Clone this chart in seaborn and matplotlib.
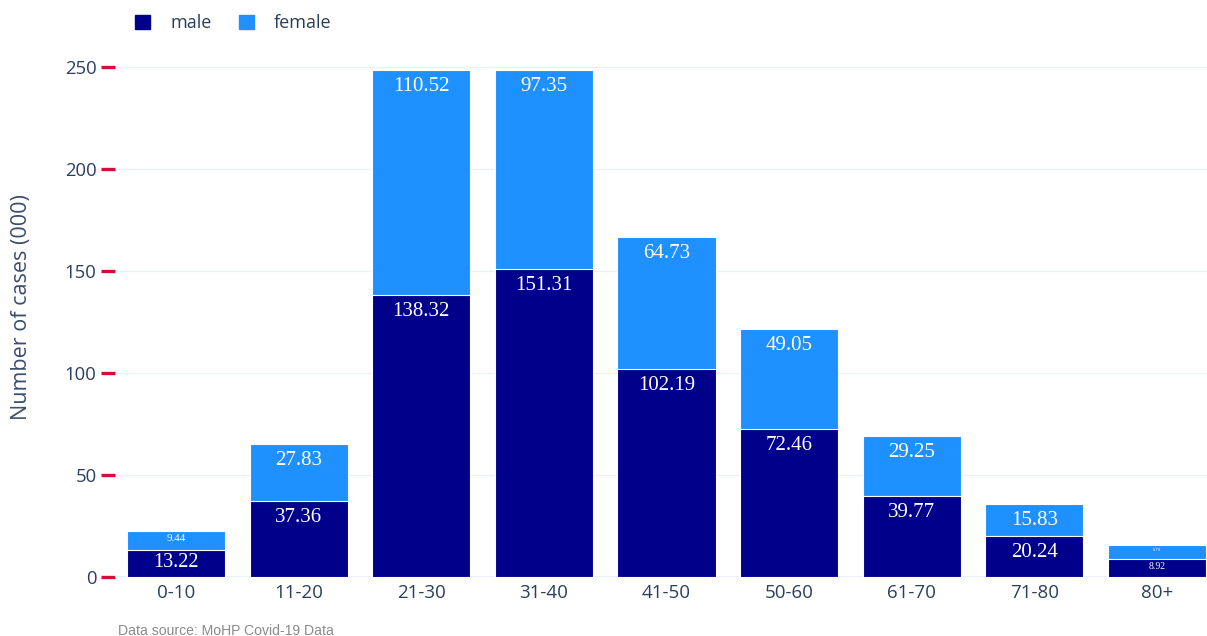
import matplotlib
matplotlib.use("Agg")
import matplotlib.pyplot as plt
from matplotlib.patches import Patch
import seaborn as sns
import pandas as pd

age_groups = ["0-10", "11-20", "21-30", "31-40", "41-50", "50-60", "61-70", "71-80", "80+"]
male = [13.22, 37.36, 138.32, 151.31, 102.19, 72.46, 39.77, 20.24, 8.92]
female = [9.44, 27.83, 110.52, 97.35, 64.73, 49.05, 29.25, 15.83, 6.79]
y_ticks = [0, 50, 100, 150, 200, 250]

MALE_C = "#00008B"
FEMALE_C = "#1E90FF"
TEXT_C = "#2A3F5F"
GRID_C = "#EBF0F8"
TICK_C = "#D0103A"

sns.set_theme(style="white")
plt.rcParams["font.family"] = ["Open Sans", "DejaVu Sans"]

df = pd.DataFrame({"age": age_groups, "male": male, "female": female})
df["total"] = df["male"] + df["female"]

W, H, DPI = 1207, 636, 100
fig = plt.figure(figsize=(W / DPI, H / DPI), dpi=DPI)

# plot area in pixels
x_left, x_right = 114.7, 1218.3
y_zero, px_per_unit = 577.3, 2.04
y_max = 262
ax = fig.add_axes([x_left / W, (H - y_zero) / H,
                   (x_right - x_left) / W, y_max * px_per_unit / H])

# stacked bars: total in female colour, male drawn over the lower part
sns.barplot(data=df, x="age", y="total", color=FEMALE_C, saturation=1,
            width=0.8, edgecolor="white", linewidth=0.8, ax=ax, zorder=2)
sns.barplot(data=df, x="age", y="male", color=MALE_C, saturation=1,
            width=0.8, edgecolor="white", linewidth=0.8, ax=ax, zorder=3)

ax.set_xlim(-0.5, len(age_groups) - 0.5)
ax.set_ylim(0, y_max)
ax.set_yticks(y_ticks)
ax.set_yticklabels([str(t) for t in y_ticks])
ax.set_xlabel("")
ax.set_ylabel("")

for s in ax.spines.values():
    s.set_visible(False)
ax.grid(False)
for t in y_ticks[1:]:
    ax.axhline(t, color=GRID_C, lw=1, zorder=0)
ax.axhline(0, color=GRID_C, lw=2.2, zorder=1)

ax.tick_params(axis="y", which="major", direction="out", length=10, width=2.4,
               color=TICK_C, pad=3, labelsize=13.3, labelcolor=TEXT_C, left=True)
ax.tick_params(axis="x", length=0, pad=5, labelsize=13.5, labelcolor=TEXT_C)


def label_size(h_px):
    # shrink text so it fits inside short segments
    return 15 * max(0.2, min(1.0, (h_px - 10) / 17.5))


def put_label(x, top, value):
    h_px = value * px_per_unit
    fs = label_size(h_px)
    off = -2.2 if fs < 15 else -5.0
    ax.annotate(f"{value:.2f}", xy=(x, top), xytext=(0, off),
                textcoords="offset points", ha="center", va="top",
                fontsize=fs, color="white", family="Liberation Serif", zorder=5)


for i, (m, f) in enumerate(zip(male, female)):
    put_label(i, m, m)
    put_label(i, m + f, f)

fig.text(22 / W, 1 - 307 / H, "Number of cases (000)", rotation=90,
         ha="center", va="center", fontsize=15.5, color="#3A4D6C")

handles = [Patch(facecolor=MALE_C, edgecolor=MALE_C, label="male"),
           Patch(facecolor=FEMALE_C, edgecolor=FEMALE_C, label="female")]
fig.legend(handles=handles, loc="center left", bbox_to_anchor=(119 / W, 1 - 23.5 / H),
           ncol=2, frameon=False, fontsize=13, handlelength=0.83, handleheight=0.83,
           handletextpad=1.1, columnspacing=1.5, labelcolor=TEXT_C)

fig.text(118 / W, 1 - 631 / H, "Data source: MoHP Covid-19 Data",
         ha="left", va="center", fontsize=10.1, color="#8A8A8A",
         family="Liberation Sans")

fig.savefig("out.png", dpi=DPI)
